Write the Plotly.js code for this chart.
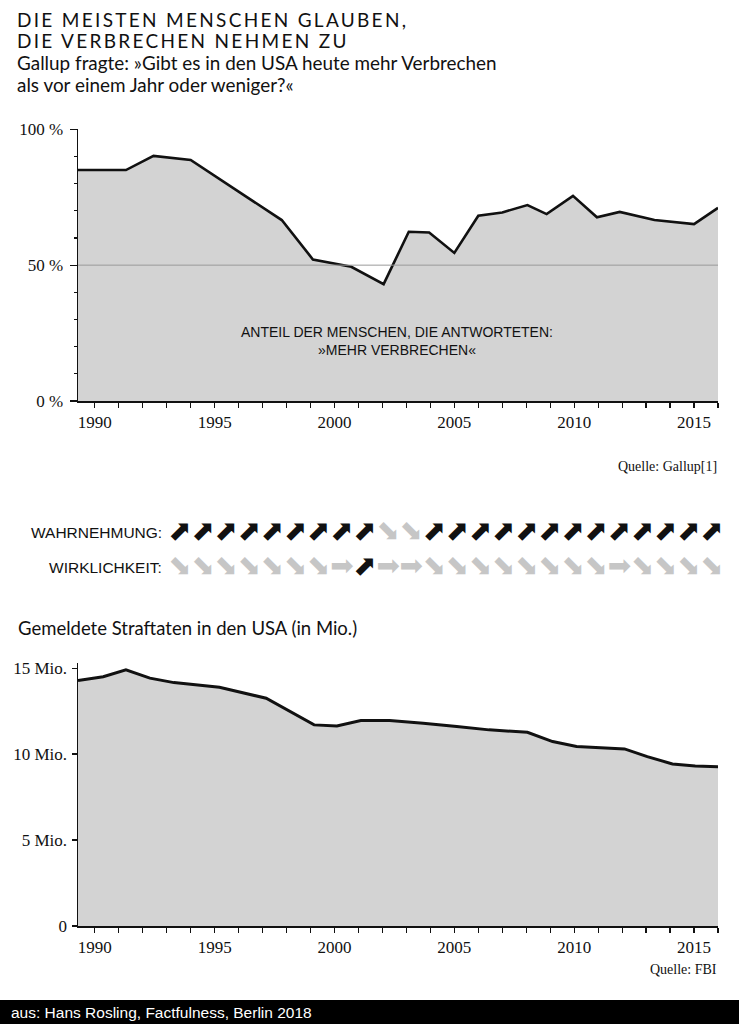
<!DOCTYPE html>
<html>
<head>
<meta charset="utf-8">
<script src="https://cdn.plot.ly/plotly-3.0.1.min.js"></script>
<style>
  html, body { margin: 0; padding: 0; background: #ffffff; }
  #chart { width: 739px; height: 1024px; }
</style>
</head>
<body>
<div id="chart"></div>
<script>
// ---- Data: Gallup "more crime than a year ago" (%) ----
const pctYears  = [1989.3, 1991.3, 1992.45, 1994.0, 1997.8, 1999.1, 2000.7, 2002.05, 2003.1, 2003.95, 2005.0, 2006.0, 2007.0, 2008.05, 2008.85, 2009.95, 2010.95, 2011.9, 2013.35, 2015.0, 2016.0];
const pctValues = [85.0, 85.0, 90.2, 88.7, 66.6, 52.1, 49.4, 43.0, 62.3, 62.0, 54.5, 68.2, 69.4, 72.1, 68.8, 75.5, 67.6, 69.6, 66.6, 65.1, 71.1];
const pctTickVals = [0, 50, 100];
const pctTickText = ['0 %', '50 %', '100 %'];
const referenceLevel = 50;

// ---- Data: reported crimes in the USA (millions, FBI) ----
const crimeYears  = [1989.3, 1990.35, 1991.3, 1992.3, 1993.3, 1995.2, 1997.15, 1998.1, 1999.15, 2000.1, 2001.1, 2002.3, 2003.7, 2005.1, 2006.45, 2008.05, 2009.1, 2010.1, 2012.1, 2013.05, 2014.1, 2015.05, 2016.0];
const crimeValues = [14.28, 14.5, 14.9, 14.42, 14.16, 13.89, 13.25, 12.53, 11.7, 11.64, 11.95, 11.95, 11.8, 11.6, 11.41, 11.27, 10.73, 10.44, 10.3, 9.85, 9.43, 9.31, 9.27];
const crimeTickVals = [0, 5, 10, 15];
const crimeTickText = ['0', '5 Mio.', '10 Mio.', '15 Mio.'];

const yearTickVals = [1990, 1995, 2000, 2005, 2010, 2015];

// ---- Data: arrows (perception vs. reality) ----
const perception = ['up','up','up','up','up','up','up','up','up','down','down','up','up','up','up','up','up','up','up','up','up','up','up','up'];
const reality    = ['down','down','down','down','down','down','down','flat','up','flat','flat','down','down','down','down','down','down','down','down','flat','down','down','down','down'];
const rowLabels  = ['WAHRNEHMUNG:', 'WIRKLICHKEIT:'];

// ---- Texts ----
const titleLines = ['DIE MEISTEN MENSCHEN GLAUBEN,', 'DIE VERBRECHEN NEHMEN ZU'];
const subtitleLines = ['Gallup fragte: »Gibt es in den USA heute mehr Verbrechen', 'als vor einem Jahr oder weniger?«'];
const innerLabel = 'ANTEIL DER MENSCHEN, DIE ANTWORTETEN:<br>»MEHR VERBRECHEN«';
const sourceTop = 'Quelle: Gallup[1]';
const crimeTitle = 'Gemeldete Straftaten in den USA (in Mio.)';
const sourceBottom = 'Quelle: FBI';
const footer = 'aus: Hans Rosling, Factfulness, Berlin 2018';

// ---- Styling / geometry ----
const W = 739, H = 1024;
const px = x => x / W;
const py = y => 1 - y / H;
const FILL = '#d3d3d3';
const SANS = 'Lato, "Noto Sans", sans-serif';
const NARROW = '"Liberation Sans Narrow", "Liberation Sans", sans-serif';
const SERIF = '"Liberation Serif", "DejaVu Serif", serif';
const glyph = {up: '⬈', down: '⬊', flat: '➡'};
const glyphColor = {up: '#111111', down: '#c6c6c6', flat: '#c6c6c6'};
const idx = perception.map((_, i) => i);
const styled = (lines, style) => lines.map(t => '<span style="' + style + '">' + t + '</span>').join('<br>');

const traces = [
  {x: pctYears, y: pctValues, type: 'scatter', mode: 'lines', fill: 'tozeroy',
   fillcolor: FILL, line: {color: '#111', width: 2.6}, xaxis: 'x', yaxis: 'y', hoverinfo: 'skip'},
  {x: crimeYears, y: crimeValues, type: 'scatter', mode: 'lines', fill: 'tozeroy',
   fillcolor: FILL, line: {color: '#111', width: 3}, xaxis: 'x3', yaxis: 'y3', hoverinfo: 'skip'},
  {x: idx, y: perception.map(() => 1), type: 'scatter', mode: 'text',
   text: perception.map(d => glyph[d]),
   textfont: {family: '"DejaVu Sans", sans-serif', size: 28, color: perception.map(d => glyphColor[d])},
   xaxis: 'x2', yaxis: 'y2', hoverinfo: 'skip'},
  {x: idx, y: reality.map(() => 0), type: 'scatter', mode: 'text',
   text: reality.map(d => glyph[d]),
   textfont: {family: '"DejaVu Sans", sans-serif', size: 28, color: reality.map(d => glyphColor[d])},
   xaxis: 'x2', yaxis: 'y2', hoverinfo: 'skip'}
];

const xCommon = {
  range: [1989.3, 2016], showline: true, linecolor: '#111', linewidth: 1.5,
  ticks: 'outside', ticklen: 5, tickwidth: 1.2, tickcolor: '#111',
  tickvals: yearTickVals, showgrid: false, zeroline: false,
  minor: {tick0: 1990, dtick: 1, ticks: 'outside', ticklen: 5, tickwidth: 1.2, tickcolor: '#111', showgrid: false},
  tickfont: {family: SERIF, size: 17, color: '#111'}, fixedrange: true
};

const layout = {
  width: W, height: H, margin: {l: 0, r: 0, t: 0, b: 0},
  paper_bgcolor: '#ffffff', plot_bgcolor: 'rgba(0,0,0,0)', showlegend: false,
  xaxis: Object.assign({}, xCommon, {domain: [px(78), px(718)], anchor: 'y'}),
  yaxis: {domain: [py(401), py(129.3)], range: [0, 100], anchor: 'x',
    showline: true, linecolor: '#111', linewidth: 1.5, ticks: 'outside', ticklen: 7, tickwidth: 1.2, tickcolor: '#111',
    tickvals: pctTickVals, ticktext: pctTickText, showgrid: false, zeroline: false, ticklabelstandoff: 3,
    minor: {tick0: 0, dtick: 10, ticks: 'outside', ticklen: 3, tickwidth: 1.2, tickcolor: '#111', showgrid: false},
    tickfont: {family: SERIF, size: 17, color: '#111'}, fixedrange: true},
  xaxis2: {domain: [0, 1], range: [-7.782, 24.167], anchor: 'y2', visible: false, fixedrange: true},
  yaxis2: {domain: [py(590), py(510)], range: [-0.629, 1.657], anchor: 'x2', visible: false, fixedrange: true},
  xaxis3: Object.assign({}, xCommon, {domain: [px(78), px(718)], anchor: 'y3'}),
  yaxis3: {domain: [py(926), py(663)], range: [0, 15.3], anchor: 'x3',
    showline: true, linecolor: '#111', linewidth: 1.5, ticks: 'outside', ticklen: 5, tickwidth: 1.2, tickcolor: '#111',
    tickvals: crimeTickVals, ticktext: crimeTickText, showgrid: false, zeroline: false, ticklabelstandoff: 1,
    tickfont: {family: SERIF, size: 17, color: '#111'}, fixedrange: true},
  shapes: [
    {type: 'line', xref: 'x domain', yref: 'y', x0: 0, x1: 1, y0: referenceLevel, y1: referenceLevel,
     line: {color: '#9a9a9a', width: 1}, layer: 'above'},
    {type: 'rect', xref: 'paper', yref: 'paper', x0: 0, x1: 1, y0: 0, y1: py(1000),
     fillcolor: '#000', line: {width: 0}, layer: 'above'}
  ],
  annotations: [
    {xref: 'paper', yref: 'paper', x: px(16), y: py(30), xanchor: 'left', yanchor: 'middle', showarrow: false,
     align: 'left', borderpad: 0,
     text: styled(titleLines, 'font-size:19px;letter-spacing:2.3px'), font: {family: SANS, size: 16.5, color: '#111'}},
    {xref: 'paper', yref: 'paper', x: px(16), y: py(73), xanchor: 'left', yanchor: 'middle', showarrow: false,
     align: 'left', borderpad: 0,
     text: styled(subtitleLines, 'font-size:18.9px'), font: {family: SANS, size: 17, color: '#111'}},
    {xref: 'x', yref: 'y', x: 2002.6, y: 22, xanchor: 'center', yanchor: 'middle', showarrow: false,
     text: innerLabel, align: 'center', font: {family: NARROW, size: 14, color: '#111'}},
    {xref: 'paper', yref: 'paper', x: px(719), y: py(466), xanchor: 'right', yanchor: 'middle', showarrow: false,
     text: sourceTop, font: {family: SERIF, size: 14, color: '#111'}},
    {xref: 'paper', yref: 'y2', x: px(164), y: 1, xanchor: 'right', yanchor: 'middle', showarrow: false,
     text: rowLabels[0], font: {family: NARROW, size: 15.5, color: '#111'}},
    {xref: 'paper', yref: 'y2', x: px(164), y: 0, xanchor: 'right', yanchor: 'middle', showarrow: false,
     text: rowLabels[1], font: {family: NARROW, size: 15.5, color: '#111'}},
    {xref: 'paper', yref: 'paper', x: px(16), y: py(628), xanchor: 'left', yanchor: 'middle', showarrow: false,
     text: crimeTitle, font: {family: SANS, size: 18.5, color: '#111'}},
    {xref: 'paper', yref: 'paper', x: px(719), y: py(969), xanchor: 'right', yanchor: 'middle', showarrow: false,
     text: sourceBottom, font: {family: SERIF, size: 14, color: '#111'}},
    {xref: 'paper', yref: 'paper', x: px(9), y: py(1012), xanchor: 'left', yanchor: 'middle', showarrow: false,
     text: footer, font: {family: '"Liberation Sans", Arial, sans-serif', size: 15.5, color: '#fff'}}
  ]
};

Plotly.newPlot('chart', traces, layout, {staticPlot: true, displayModeBar: false});
</script>
</body>
</html>
